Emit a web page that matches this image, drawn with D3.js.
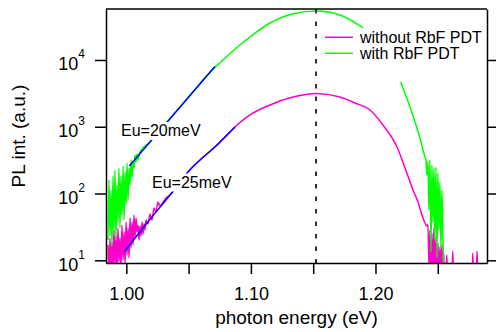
<!DOCTYPE html>
<html>
<head>
<meta charset="utf-8">
<script src="https://cdn.jsdelivr.net/npm/d3@7"></script>
<style>
  body { margin: 0; background: #fff; }
  text { font-family: "Liberation Sans", Arial, sans-serif; fill: #000; }
</style>
</head>
<body>
<svg id="chart" width="496" height="332"></svg>
<script>
// spectra: [photon energy (eV), PL intensity (a.u.)], null = no data
const withoutPDT = [
  [0.9853, 16.9], [0.9861, 6], [0.9869, 21.6], [0.9877, 7], [0.9885, 18.8], [0.9893, 7.5],
  [0.9901, 28.4], [0.9909, 8.5], [0.9917, 23.1], [0.9925, 6.5], [0.9933, 30.5], [0.9941, 9.4],
  [0.9949, 21.6], [0.9957, 7.5], [0.9965, 33.8], [0.9974, 10.1], [0.9982, 26.5], [0.9990, 8.8],
  [0.9998, 37.5], [1.0006, 12], [1.0014, 30.5], [1.0022, 10.8], [1.0030, 43], [1.0038, 15.3],
  [1.0046, 37.5], [1.0054, 16.9], [1.0062, 47.6], [1.0070, 21.6], [1.0078, 43], [1.0086, 26.5],
  [1.0094, 33.8], [1.0102, 20.1], [1.0110, 32.6], [1.0118, 23.1], [1.0126, 37.5], [1.0134, 24.8],
  [1.0142, 35.0], [1.0150, 28.4], [1.0158, 40], [1.0174, 35], [1.0190, 49.3], [1.0206, 40],
  [1.0222, 60.7], [1.0238, 52.9], [1.0254, 74.6], [1.0270, 65], [1.0295, 74.6], [1.0319, 85.7],
  [1.0351, 94.8], [1.0383, 113], [1.0439, 154], [1.0495, 210], [1.0608, 340], [1.0728, 533],
  [1.0872, 993], [1.0993, 1500], [1.1153, 2120], [1.1338, 2790], [1.1522, 3150], [1.1715, 2790],
  [1.1835, 2270], [1.1956, 1782], [1.2060, 1062], [1.2173, 497], [1.2237, 241], [1.2301, 113],
  [1.2341, 74.6], [1.2381, 43.0], [1.2413, 32.6],
  [1.2421, 35], [1.2429, 8], [1.2437, 28.4], [1.2445, 6], [1.2453, 25.7], [1.2461, 7],
  [1.2469, 30.5], [1.2477, 6.5], [1.2485, 21.6], [1.2493, 7.5], [1.2501, 18.2], [1.2509, 6],
  [1.2517, 15.8], [1.2525, 7], [1.2533, 17.5], [1.2541, 6.5], [1.2546, 13.8], [1.2553, 6],
  [1.2566, 6], [1.2572, 12.0], [1.2578, 6], [1.2614, 6], [1.2620, 13.8], [1.2627, 6],
  [1.2775, 6], [1.2781, 12.8], [1.2787, 6], [1.2808, 6], [1.2815, 13.8], [1.2821, 6],
  [1.2879, 6]
];

const withPDT = [
  [0.9853, 20.1], [0.9861, 160], [0.9869, 23.1], [0.9877, 113], [0.9885, 16.4], [0.9893, 183],
  [0.9901, 26.5], [0.9909, 225], [0.9917, 21.6], [0.9925, 134], [0.9933, 37.5], [0.9941, 241],
  [0.9949, 30.5], [0.9957, 183], [0.9965, 47.6], [0.9974, 258], [0.9982, 40], [0.9990, 210],
  [0.9998, 67], [1.0006, 286], [1.0014, 80], [1.0022, 241], [1.0030, 134], [1.0038, 318],
  [1.0046, 171], [1.0054, 297], [1.0062, 241], [1.0070, 378], [1.0078, 297], [1.0086, 391],
  [1.0094, 318], [1.0110, 424],
  [1.0190, 590], [1.0351, 1334], [1.0511, 2970], [1.0672, 6610], [1.0768, 9660], [1.0872, 14600],
  [1.0993, 22100], [1.1153, 35800], [1.1314, 48000], [1.1522, 54200], [1.1715, 47200], [1.1899, 30500],
  [1.2050, null],
  [1.2202, 4680], [1.2277, 1977], [1.2357, 679], [1.2397, 352],
  [1.2405, 318], [1.2413, 189], [1.2421, 297], [1.2429, 56.6], [1.2437, 318], [1.2445, 13.3],
  [1.2453, 267], [1.2461, 37.5], [1.2469, 241], [1.2477, 20.1], [1.2485, 249], [1.2493, 10.8],
  [1.2501, 203], [1.2509, 28.4], [1.2517, 149], [1.2525, 15.3], [1.2533, 113], [1.2541, 21.6],
  [1.2549, 6]
];

// Urbach tail fits
const fitWithPDT = [[1.0024, 258], [1.0712, 7960]];
const fitWithoutPDT = [[0.9984, 13.4], [1.0166, 36.1], [1.0383, 113], [1.0495, 210], [1.0728, 533], [1.0872, 991]];

const peakEnergy = 1.1523;

const xTicks = [1.00, 1.05, 1.10, 1.15, 1.20, 1.25];
const xTickLabels = ["1.00", "", "1.10", "", "1.20", ""];
const yTicks = [10, 100, 1000, 10000];
const yTickExps = ["1", "2", "3", "4"];

const seriesNames = ["without RbF PDT", "with RbF PDT"];
const seriesColors = ["#ff00cc", "#00ff00"];
const fitLabels = ["Eu=20meV", "Eu=25meV"];

const svg = d3.select("#chart");
const m = { left: 106, right: 487, top: 9, bottom: 263 };

const x = d3.scaleLinear().domain([0.9837, 1.2895]).range([m.left, m.right]);
const y = d3.scaleLog().domain([9.11, 58000]).range([m.bottom, m.top]);

svg.append("defs").append("clipPath").attr("id", "plot")
  .append("rect").attr("x", m.left).attr("y", m.top)
  .attr("width", m.right - m.left).attr("height", m.bottom - m.top);

const line = d3.line()
  .defined(d => d[1] !== null)
  .x(d => x(d[0]))
  .y(d => y(d[1]))
  .curve(d3.curveMonotoneX);

const plot = svg.append("g").attr("clip-path", "url(#plot)");

// curves
plot.append("path").datum(withoutPDT)
  .attr("d", line).attr("fill", "none")
  .attr("stroke", seriesColors[0]).attr("stroke-width", 1.5);

plot.append("path").datum(withPDT)
  .attr("d", line).attr("fill", "none")
  .attr("stroke", seriesColors[1]).attr("stroke-width", 1.5);

// fits
[fitWithPDT, fitWithoutPDT].forEach(f => {
  plot.append("path").datum(f)
    .attr("d", line).attr("fill", "none")
    .attr("stroke", "#0000ff").attr("stroke-width", 1.5);
});

// peak position
plot.append("line")
  .attr("x1", x(peakEnergy)).attr("x2", x(peakEnergy))
  .attr("y1", m.top).attr("y2", m.bottom)
  .attr("stroke", "#000").attr("stroke-width", 1.6)
  .attr("stroke-dasharray", "4.5,8");

// Eu annotations (opaque boxes)
const notes = [
  { text: fitLabels[0], x: 121, y: 136 },
  { text: fitLabels[1], x: 152, y: 187.5 }
];
notes.forEach(n => {
  const g = svg.append("g");
  const rect = g.append("rect").attr("fill", "#fff");
  const t = g.append("text").attr("x", n.x).attr("y", n.y)
    .attr("font-size", 16).text(n.text);
  const bb = t.node().getBBox();
  rect.attr("x", bb.x - 2).attr("y", bb.y).attr("width", bb.width + 4).attr("height", bb.height + 1);
});

// legend
seriesNames.forEach((name, i) => {
  const ly = 37.3 + i * 16;
  svg.append("line")
    .attr("x1", 325).attr("x2", 353).attr("y1", ly).attr("y2", ly)
    .attr("stroke", seriesColors[i]).attr("stroke-width", 1.5);
  svg.append("text").attr("x", 360).attr("y", ly + 6)
    .attr("font-size", 16).text(name);
});

// axes
const xAxis = svg.append("g")
  .attr("transform", "translate(0," + m.bottom + ")")
  .call(d3.axisBottom(x).tickValues(xTicks).tickSize(11).tickSizeOuter(0)
    .tickPadding(13.5).tickFormat((d, i) => xTickLabels[i]));
xAxis.attr("font-family", null).attr("font-size", null);
xAxis.selectAll("text").attr("font-size", 18);

svg.append("g")
  .attr("transform", "translate(" + m.left + ",0)")
  .call(d3.axisLeft(y).tickValues(yTicks).tickSize(11).tickSizeOuter(0).tickFormat(""));

svg.append("g")
  .attr("transform", "translate(" + m.right + ",0)")
  .call(d3.axisRight(y).tickValues(yTicks).tickSize(11).tickSizeOuter(0).tickFormat(""));

svg.selectAll(".domain, .tick line").attr("stroke", "#000").attr("stroke-width", 1.5);

svg.append("line")
  .attr("x1", m.left).attr("x2", m.right).attr("y1", m.top).attr("y2", m.top)
  .attr("stroke", "#000").attr("stroke-width", 1.5);

// y tick labels with exponents
yTicks.forEach((v, i) => {
  const t = svg.append("text")
    .attr("x", 85).attr("y", y(v) + 10.5)
    .attr("text-anchor", "end").attr("font-size", 18);
  t.append("tspan").text("10");
  t.append("tspan").attr("dy", -12.2).attr("font-size", 12).text(yTickExps[i]);
});

// axis titles
svg.append("text")
  .attr("x", (m.left + m.right) / 2).attr("y", 324)
  .attr("text-anchor", "middle").attr("font-size", 19)
  .text("photon energy (eV)");

svg.append("text")
  .attr("transform", "translate(25," + (m.top + m.bottom) / 2 + ") rotate(-90)")
  .attr("text-anchor", "middle").attr("font-size", 19)
  .text("PL int. (a.u.)");
</script>
</body>
</html>
